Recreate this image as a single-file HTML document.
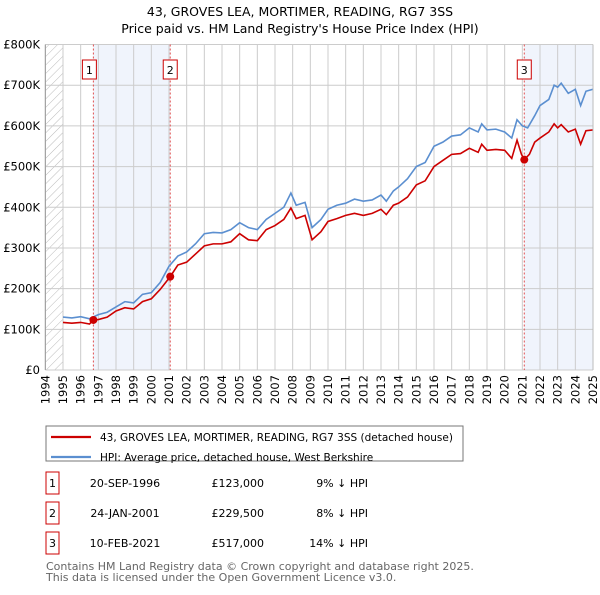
<!DOCTYPE html>
<html><head><meta charset="utf-8"><style>
body{margin:0;background:#fff;font-family:"Liberation Sans","DejaVu Sans",sans-serif;}
svg text{font-family:"DejaVu Sans","Liberation Sans",sans-serif;}
</style></head><body>
<svg width="600" height="590" viewBox="0 0 600 590" xmlns="http://www.w3.org/2000/svg">
<defs><pattern id="hatch" width="6" height="6" patternUnits="userSpaceOnUse" patternTransform="rotate(45)"><line x1="0" y1="0" x2="0" y2="6" stroke="#bbb" stroke-width="1"/></pattern></defs>
<text x="300" y="16" text-anchor="middle" font-size="12.5" fill="#000">43, GROVES LEA, MORTIMER, READING, RG7 3SS</text>
<text x="300" y="33" text-anchor="middle" font-size="12.5" fill="#000">Price paid vs. HM Land Registry's House Price Index (HPI)</text>
<g id="plot"></g>
<g>
<rect x="46" y="426" width="417" height="35" fill="#fff" stroke="#777"/>
<line x1="51" y1="437" x2="91" y2="437" stroke="#cc0000" stroke-width="2.2"/>
<text x="100" y="441" font-size="10.5">43, GROVES LEA, MORTIMER, READING, RG7 3SS (detached house)</text>
<line x1="51" y1="457" x2="91" y2="457" stroke="#5b8fd0" stroke-width="2.2"/>
<text x="100" y="461" font-size="10.5">HPI: Average price, detached house, West Berkshire</text>
</g>
<g id="table" font-size="11"></g>
<text x="46" y="570" font-size="11" fill="#666">Contains HM Land Registry data © Crown copyright and database right 2025.</text>
<text x="46" y="581" font-size="11" fill="#666">This data is licensed under the Open Government Licence v3.0.</text>
</svg>
<script>
const hpiYears=[1995.0,1995.5,1996.0,1996.5,1997.0,1997.5,1998.0,1998.5,1999.0,1999.5,2000.0,2000.5,2001.0,2001.5,2002.0,2002.5,2003.0,2003.5,2004.0,2004.5,2005.0,2005.5,2006.0,2006.5,2007.0,2007.5,2007.9,2008.2,2008.7,2009.1,2009.6,2010.0,2010.5,2011.0,2011.5,2012.0,2012.5,2013.0,2013.3,2013.7,2014.0,2014.5,2015.0,2015.5,2016.0,2016.5,2017.0,2017.5,2018.0,2018.5,2018.7,2019.0,2019.5,2020.0,2020.4,2020.7,2021.0,2021.3,2021.7,2022.0,2022.5,2022.8,2023.0,2023.2,2023.6,2024.0,2024.3,2024.6,2025.0];
const hpiValues=[130,128,131,126,136,142,155,168,165,186,190,215,255,280,290,310,335,338,337,345,362,350,345,370,385,400,435,405,412,350,370,395,405,410,420,415,418,430,415,440,450,470,500,510,550,560,575,578,595,585,605,590,592,585,570,615,600,595,625,650,665,700,695,705,680,690,650,685,690];
const ppYears=[1995.0,1995.5,1996.0,1996.5,1996.72,1997.0,1997.5,1998.0,1998.5,1999.0,1999.5,2000.0,2000.5,2001.07,2001.5,2002.0,2002.5,2003.0,2003.5,2004.0,2004.5,2005.0,2005.5,2006.0,2006.5,2007.0,2007.5,2007.9,2008.2,2008.7,2009.1,2009.6,2010.0,2010.5,2011.0,2011.5,2012.0,2012.5,2013.0,2013.3,2013.7,2014.0,2014.5,2015.0,2015.5,2016.0,2016.5,2017.0,2017.5,2018.0,2018.5,2018.7,2019.0,2019.5,2020.0,2020.4,2020.7,2020.95,2021.11,2021.4,2021.7,2022.0,2022.5,2022.8,2023.0,2023.2,2023.6,2024.0,2024.3,2024.6,2025.0];
const ppValues=[117,115,117,113,123,124,130,145,153,150,168,175,198,229.5,258,265,285,305,310,310,315,335,320,318,345,355,370,398,372,380,320,340,365,372,380,385,380,385,395,382,405,410,425,455,465,500,515,530,532,545,535,555,540,542,540,520,565,530,517,530,560,570,585,605,595,603,585,592,555,588,590];
const saleYears=[1996.72,2001.07,2021.11];
const saleValues=[123,229.5,517];
const saleLabels=["1","2","3"];
const saleDates=["20-SEP-1996","24-JAN-2001","10-FEB-2021"];
const salePrices=["£123,000","£229,500","£517,000"];
const saleDiffs=["9% ↓ HPI","8% ↓ HPI","14% ↓ HPI"];
const yTicks=[0,100,200,300,400,500,600,700,800];
const yTickLabels=["£0","£100K","£200K","£300K","£400K","£500K","£600K","£700K","£800K"];
const xTicks=[1994,1995,1996,1997,1998,1999,2000,2001,2002,2003,2004,2005,2006,2007,2008,2009,2010,2011,2012,2013,2014,2015,2016,2017,2018,2019,2020,2021,2022,2023,2024,2025];

const NS="http://www.w3.org/2000/svg";
const X=y=>63+(y-1995)*(530/30);
const Y=v=>370-v*(325.5/800);
const plot=document.getElementById('plot');
function mk(tag,attrs,parent){const e=document.createElementNS(NS,tag);for(const k in attrs)e.setAttribute(k,attrs[k]);(parent||plot).appendChild(e);return e;}
let s=mk('rect',{x:X(1994),y:Y(800),width:X(1995)-X(1994),height:Y(0)-Y(800),fill:'url(#hatch)'});


s=mk('rect',{x:X(saleYears[0]),y:Y(800),width:X(saleYears[1])-X(saleYears[0]),height:Y(0)-Y(800),fill:'#f0f4fc'});


s=mk('rect',{x:X(saleYears[2]),y:Y(800),width:X(2025)-X(saleYears[2]),height:Y(0)-Y(800),fill:'#f0f4fc'});


xTicks.forEach(t=>{
 const l=mk('line',{x1:X(t),x2:X(t),y1:Y(800),y2:Y(0),stroke:'#ccc','stroke-width':1});
 
 
 const tx=mk('text',{x:0,y:0,transform:`translate(${X(t)+4},${Y(0)+5}) rotate(-90)`,'text-anchor':'end','font-size':11.5});
 tx.textContent=t;
 
 
});
yTicks.forEach((t,i)=>{
 const l=mk('line',{x1:X(1994),x2:X(2025),y1:Y(t),y2:Y(t),stroke:'#ccc','stroke-width':1});
 
 
 const tx=mk('text',{x:40,y:Y(t)+4,'text-anchor':'end','font-size':11.5});
 tx.textContent=yTickLabels[i];
 
 
});
saleYears.forEach((yr,i)=>{
 const l=mk('line',{x1:X(yr),x2:X(yr),y1:Y(800),y2:Y(0),stroke:'#e05050','stroke-width':1,'stroke-dasharray':'2,2'});
 
 
 const bx=X(yr)-(i==0?4:0);
 const r=mk('rect',{x:bx-7,y:60,width:14,height:19,fill:'#fff',stroke:'#cc0000'});
 
 
 const t=mk('text',{x:bx,y:74,'text-anchor':'middle','font-size':11});
 t.textContent=saleLabels[i];
 
 
});
let p=mk('polyline',{points:hpiYears.map((y,i)=>X(y)+','+Y(hpiValues[i])).join(' '),fill:'none',stroke:'#5b8fd0','stroke-width':1.6});


p=mk('polyline',{points:ppYears.map((y,i)=>X(y)+','+Y(ppValues[i])).join(' '),fill:'none',stroke:'#cc0000','stroke-width':1.6});


saleYears.forEach((yr,i)=>{
 const c=mk('circle',{cx:X(yr),cy:Y(saleValues[i]),r:4,fill:'#cc0000'});
 
 
});
let ax=mk('line',{x1:X(1994),x2:X(1994),y1:Y(800),y2:Y(0),stroke:'#999'});


let rx=mk('line',{x1:X(2025),x2:X(2025),y1:Y(800),y2:Y(0),stroke:'#bbb'});


const tb=document.getElementById('table');
saleYears.forEach((yr,i)=>{
 const cy=483+i*30;
 const r=mk('rect',{x:46,y:cy-11,width:13,height:22,fill:'#fff',stroke:'#cc0000'},tb);
 
 
 const cells=[[52.5,saleLabels[i],'middle'],[125,saleDates[i],'middle'],[264,salePrices[i],'end'],[368,saleDiffs[i],'end']];
 cells.forEach(c=>{
  const t=mk('text',{x:c[0],y:cy+4,'text-anchor':c[2],'font-size':11},tb);
  t.textContent=c[1];
  
  
 });
});
</script>
</body></html>
